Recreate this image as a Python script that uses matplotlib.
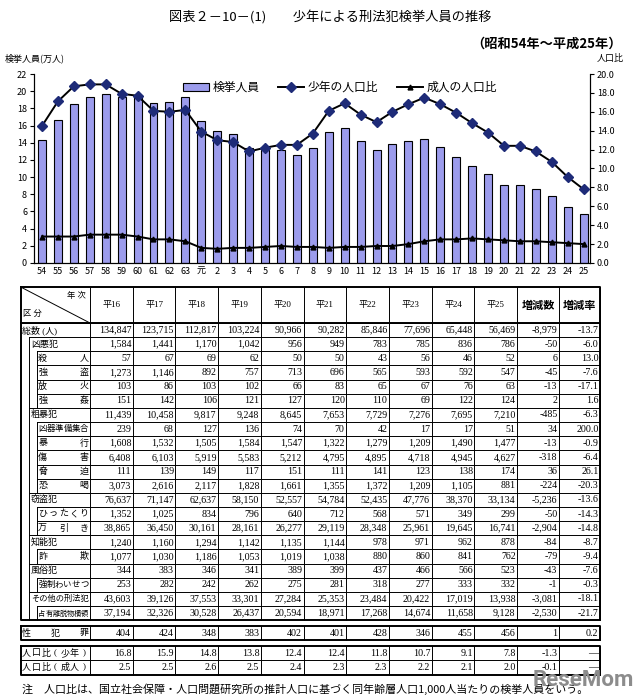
import numpy as np
import matplotlib.pyplot as plt
from matplotlib.patches import Patch
from matplotlib.lines import Line2D

plt.rcParams['font.family'] = ['Noto Sans CJK JP', 'DejaVu Sans']

# chart data (S54 - H25)
years = ['54', '55', '56', '57', '58', '59', '60', '61', '62', '63', '元',
         '2', '3', '4', '5', '6', '7', '8', '9', '10', '11', '12', '13', '14',
         '15', '16', '17', '18', '19', '20', '21', '22', '23', '24', '25']
arrests = [14.3, 16.6, 18.5, 19.3, 19.7, 19.3, 19.4, 18.6, 18.7, 19.3, 16.5,
           15.4, 15.0, 13.4, 13.1, 13.1, 12.6, 13.4, 15.3, 15.7, 14.2, 13.2,
           13.9, 14.2, 14.4, 13.48, 12.37, 11.28, 10.32, 9.10, 9.03, 8.58,
           7.77, 6.54, 5.65]
youth_ratio = [14.5, 17.1, 18.7, 18.9, 18.9, 17.9, 17.7, 16.1, 16.0, 16.2,
               13.9, 13.0, 12.8, 11.8, 12.2, 12.5, 12.5, 13.7, 16.1, 16.9,
               15.7, 14.9, 16.0, 16.8, 17.5, 16.8, 15.9, 14.8, 13.8, 12.4,
               12.4, 11.8, 10.7, 9.1, 7.8]
adult_ratio = [2.8, 2.8, 2.8, 3.0, 3.0, 3.0, 2.8, 2.5, 2.5, 2.3, 1.6, 1.5,
               1.6, 1.6, 1.7, 1.8, 1.7, 1.7, 1.6, 1.7, 1.7, 1.8, 1.8, 2.0,
               2.3, 2.5, 2.5, 2.6, 2.5, 2.4, 2.3, 2.3, 2.2, 2.1, 2.0]

# table data (H16 - H25)
tab_years = ['平16', '平17', '平18', '平19', '平20', '平21', '平22', '平23', '平24', '平25']
row_names = ['総数 (人)', '凶悪犯', '殺人', '強盗', '放火', '強姦', '粗暴犯',
             '凶器準備集合', '暴行', '傷害', '脅迫', '恐喝', '窃盗犯', 'ひったくり',
             '万引き', '知能犯', '詐欺', '風俗犯', '強制わいせつ', 'その他の刑法犯',
             '占有離脱物横領']
row_level = [0, 1, 2, 2, 2, 2, 1, 2, 2, 2, 2, 2, 1, 2, 2, 1, 2, 1, 2, 1, 2]
row_vals = [
    [134847, 123715, 112817, 103224, 90966, 90282, 85846, 77696, 65448, 56469],
    [1584, 1441, 1170, 1042, 956, 949, 783, 785, 836, 786],
    [57, 67, 69, 62, 50, 50, 43, 56, 46, 52],
    [1273, 1146, 892, 757, 713, 696, 565, 593, 592, 547],
    [103, 86, 103, 102, 66, 83, 65, 67, 76, 63],
    [151, 142, 106, 121, 127, 120, 110, 69, 122, 124],
    [11439, 10458, 9817, 9248, 8645, 7653, 7729, 7276, 7695, 7210],
    [239, 68, 127, 136, 74, 70, 42, 17, 17, 51],
    [1608, 1532, 1505, 1584, 1547, 1322, 1279, 1209, 1490, 1477],
    [6408, 6103, 5919, 5583, 5212, 4795, 4895, 4718, 4945, 4627],
    [111, 139, 149, 117, 151, 111, 141, 123, 138, 174],
    [3073, 2616, 2117, 1828, 1661, 1355, 1372, 1209, 1105, 881],
    [76637, 71147, 62637, 58150, 52557, 54784, 52435, 47776, 38370, 33134],
    [1352, 1025, 834, 796, 640, 712, 568, 571, 349, 299],
    [38865, 36450, 30161, 28161, 26277, 29119, 28348, 25961, 19645, 16741],
    [1240, 1160, 1294, 1142, 1135, 1144, 978, 971, 962, 878],
    [1077, 1030, 1186, 1053, 1019, 1038, 880, 860, 841, 762],
    [344, 383, 346, 341, 389, 399, 437, 466, 566, 523],
    [253, 282, 242, 262, 275, 281, 318, 277, 333, 332],
    [43603, 39126, 37553, 33301, 27284, 25353, 23484, 20422, 17019, 13938],
    [37194, 32326, 30528, 26437, 20594, 18971, 17268, 14674, 11658, 9128],
]
row_diff = [-8979, -50, 6, -45, -13, 2, -485, 34, -13, -318, 36, -224, -5236,
            -50, -2904, -84, -79, -43, -1, -3081, -2530]
row_rate = [-13.7, -6.0, 13.0, -7.6, -17.1, 1.6, -6.3, 200.0, -0.9, -6.4, 26.1,
            -20.3, -13.6, -14.3, -14.8, -8.7, -9.4, -7.6, -0.3, -18.1, -21.7]

sex_vals = [404, 424, 348, 383, 402, 401, 428, 346, 455, 456]
sex_diff = 1
sex_rate = 0.2

ratio_names = ['人口比(少年)', '人口比(成人)']
ratio_vals = [[16.8, 15.9, 14.8, 13.8, 12.4, 12.4, 11.8, 10.7, 9.1, 7.8],
              [2.5, 2.5, 2.6, 2.5, 2.4, 2.3, 2.3, 2.2, 2.1, 2.0]]
ratio_diff = [-1.3, -0.1]

W, H = 640, 700
fig = plt.figure(figsize=(W / 100, H / 100), dpi=100)

# full-figure axes in pixel coordinates for titles and the table
tab = fig.add_axes([0, 0, 1, 1])
tab.set_xlim(0, W)
tab.set_ylim(H, 0)
tab.axis('off')

tab.text(330, 18, '図表２－10－(1)　　少年による刑法犯検挙人員の推移', ha='center', va='center', fontsize=9.5)
tab.text(622, 44, '（昭和54年～平成25年）', ha='right', va='center', fontsize=9.5, fontweight='bold')
tab.text(5, 58, '検挙人員(万人)', ha='left', va='center', fontsize=6.5)
tab.text(624, 58, '人口比', ha='right', va='center', fontsize=6.5)

# ---- chart ----
ax = fig.add_axes([34 / W, 1 - 263 / H, 556 / W, 189 / H])
x = np.arange(len(years))
ax.bar(x, arrests, width=0.5, color='#9C9CEC', edgecolor='black', linewidth=0.8)
ax.set_xlim(-0.5, len(years) - 0.6)
ax.set_ylim(0, 22)
ax.set_yticks(np.arange(0, 23, 2))
ax.set_xticks(x)
ax.set_xticklabels(years)
ax.tick_params(axis='x', length=0, labelsize=6.5, pad=3)
ax.tick_params(axis='y', labelsize=6.5, length=3, pad=2)
ax.spines['top'].set_visible(False)

ax2 = ax.twinx()
ax2.plot(x, youth_ratio, color='black', lw=1.4, marker='D', ms=4.8,
         mfc='#1E2B78', mec='#1E2B78', zorder=3)
ax2.plot(x, adult_ratio, color='black', lw=1.4, marker='^', ms=3.5,
         mfc='black', mec='black', zorder=3)
ax2.set_ylim(0, 20)
ax2.set_yticks(np.arange(0, 21, 2))
ax2.set_yticklabels(['%.1f' % v for v in np.arange(0, 21, 2)])
ax2.tick_params(axis='y', labelsize=6.5, length=3, pad=2)
ax2.spines['top'].set_visible(False)

handles = [Patch(facecolor='#9C9CEC', edgecolor='black', linewidth=0.8),
           Line2D([], [], color='black', lw=1.4, marker='D', ms=4.8, mfc='#1E2B78', mec='#1E2B78'),
           Line2D([], [], color='black', lw=1.4, marker='^', ms=3.5, mfc='black')]
ax2.legend(handles, ['検挙人員', '少年の人口比', '成人の人口比'], loc='upper center',
           bbox_to_anchor=(0.55, 1.02), ncol=3, frameon=False, fontsize=8.5,
           handlelength=2.2, handletextpad=0.3, columnspacing=1.6)

# ---- table ----
num_font = ['Liberation Serif', 'Noto Sans CJK JP']
x_left, x_lab = 20.7, 90.0
col_w = 42.7
edges = [x_lab + i * col_w for i in range(11)] + [559.0, 600.0]
indent = [x_left, 29.3, 36.7]
top, head_bot, row_h = 287.0, 323.0, 14.15
thin, thick = 0.7, 1.4


def put_label(name, xa, xb, yc, spread):
    n = len(name)
    cpx = min(9.0, (xb - xa - 3) / n)
    fs = cpx * 0.72
    if spread and n > 1:
        xs = np.linspace(xa + 1.5 + cpx / 2, xb - 1.5 - cpx / 2, n)
        for c, xc in zip(name, xs):
            tab.text(xc, yc, c, ha='center', va='center', fontsize=fs, family=num_font)
    else:
        tab.text(xa + 1.5, yc, name, ha='left', va='center', fontsize=fs, family=num_font)


def put_nums(cells, yc):
    for j, s in enumerate(cells):
        tab.text(edges[j + 1] - 1.5, yc, s, ha='right', va='center', fontsize=7.2, family=num_font)


def fmt_int(v):
    return '{:,}'.format(v)


# header
tab.plot([x_left, x_lab], [top, head_bot], color='black', lw=thin)
tab.text(76, 296, '年 次', ha='center', va='center', fontsize=6, family=num_font)
tab.text(32, 314, '区 分', ha='center', va='center', fontsize=6, family=num_font)
for j, lab in enumerate(tab_years):
    tab.text((edges[j] + edges[j + 1]) / 2, (top + head_bot) / 2, lab, ha='center',
             va='center', fontsize=6.5, family=num_font)
for j, lab in enumerate(['増減数', '増減率']):
    tab.text((edges[10 + j] + edges[11 + j]) / 2, (top + head_bot) / 2, lab, ha='center',
             va='center', fontsize=8, fontweight='bold')

bottom = head_bot + row_h * len(row_names)
for i, name in enumerate(row_names):
    y0 = head_bot + i * row_h
    yc = y0 + row_h / 2
    lev = row_level[i]
    tab.plot([indent[lev], edges[-1]], [y0, y0], color='black', lw=thin)
    if lev == 2:
        tab.plot([indent[2], indent[2]], [y0, y0 + row_h], color='black', lw=thin)
    put_label(name, indent[lev], x_lab, yc, lev == 2)
    cells = [fmt_int(v) for v in row_vals[i]] + [fmt_int(row_diff[i]), '%.1f' % row_rate[i]]
    put_nums(cells, yc)
tab.plot([indent[1], indent[1]], [head_bot + row_h, bottom], color='black', lw=thin)
for xe in edges:
    tab.plot([xe, xe], [top, bottom], color='black', lw=thin)
tab.plot([x_left, edges[-1], edges[-1], x_left, x_left], [top, top, bottom, bottom, top],
         color='black', lw=thick)
tab.plot([x_left, edges[-1]], [head_bot, head_bot], color='black', lw=thick)

# sex crime box
s0 = bottom + 6
s1 = s0 + row_h
for xe in edges:
    tab.plot([xe, xe], [s0, s1], color='black', lw=thin)
tab.plot([x_left, edges[-1], edges[-1], x_left, x_left], [s0, s0, s1, s1, s0], color='black', lw=thick)
put_label('性犯罪', x_left, x_lab, (s0 + s1) / 2, True)
put_nums([fmt_int(v) for v in sex_vals] + [fmt_int(sex_diff), '%.1f' % sex_rate], (s0 + s1) / 2)

# population ratio box
r0 = s1 + 6
r1 = r0 + 2 * row_h
for xe in edges:
    tab.plot([xe, xe], [r0, r1], color='black', lw=thin)
tab.plot([x_left, edges[-1]], [r0 + row_h, r0 + row_h], color='black', lw=thin)
tab.plot([x_left, edges[-1], edges[-1], x_left, x_left], [r0, r0, r1, r1, r0], color='black', lw=thick)
for i, name in enumerate(ratio_names):
    yc = r0 + i * row_h + row_h / 2
    put_label(name, x_left, x_lab, yc, True)
    put_nums(['%.1f' % v for v in ratio_vals[i]] + ['%.1f' % ratio_diff[i], '—'], yc)

tab.text(22, 689, '注　人口比は、国立社会保障・人口問題研究所の推計人口に基づく同年齢層人口1,000人当たりの検挙人員をいう。',
         ha='left', va='center', fontsize=7.9)
tab.text(634, 680, 'ReseMom', ha='right', va='center', fontsize=16, fontweight='bold',
         color='#8c8c8c', family=['Roboto', 'DejaVu Sans'], zorder=5)

fig.savefig('out.png', dpi=100)
